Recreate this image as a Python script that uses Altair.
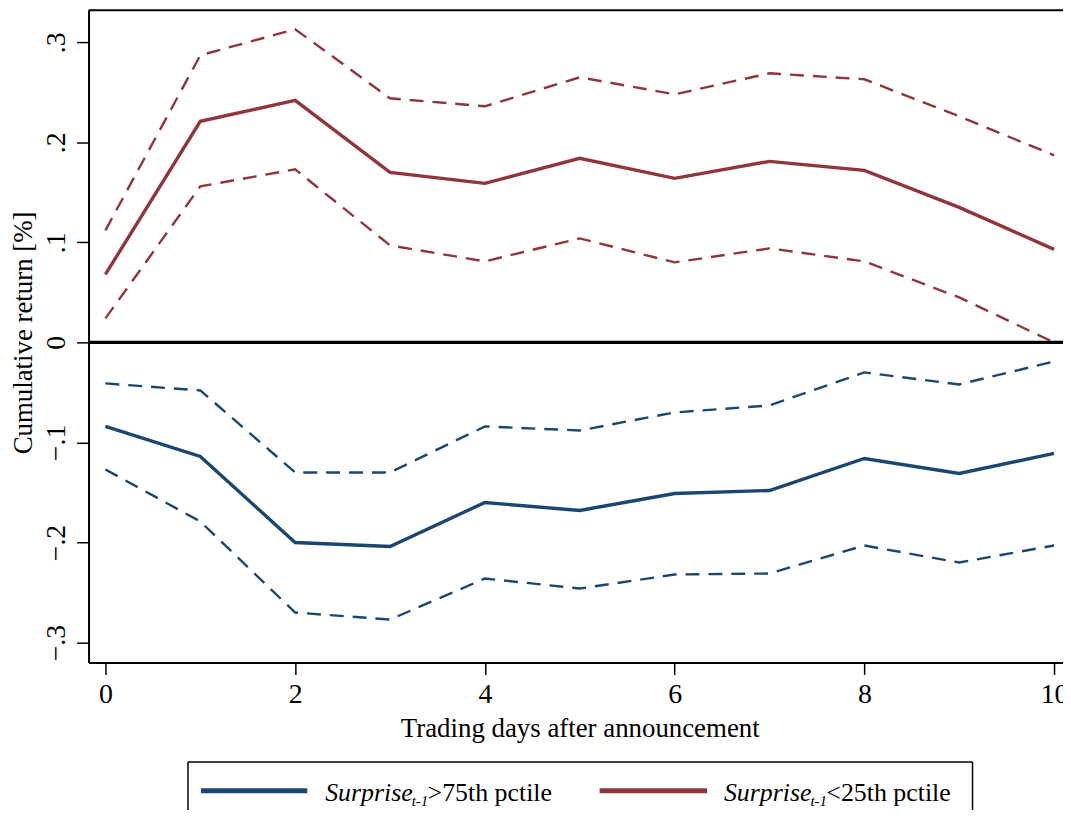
import altair as alt
import pandas as pd

# ---- data ----
days = list(range(11))
low_mean = [0.068, 0.221, 0.242, 0.170, 0.159, 0.184, 0.164, 0.181, 0.172, 0.135, 0.093]
low_upper = [0.112, 0.287, 0.313, 0.244, 0.236, 0.265, 0.248, 0.269, 0.263, 0.226, 0.187]
low_lower = [0.024, 0.156, 0.173, 0.097, 0.081, 0.104, 0.080, 0.094, 0.081, 0.045, 0.000]
high_mean = [-0.084, -0.114, -0.200, -0.204, -0.160, -0.168, -0.151, -0.148, -0.116, -0.131, -0.111]
high_upper = [-0.041, -0.048, -0.130, -0.130, -0.084, -0.088, -0.070, -0.063, -0.030, -0.042, -0.019]
high_lower = [-0.127, -0.179, -0.270, -0.277, -0.236, -0.246, -0.232, -0.231, -0.203, -0.220, -0.203]

x_ticks = [0, 2, 4, 6, 8, 10]
y_ticks = [-0.3, -0.2, -0.1, 0, 0.1, 0.2, 0.3]
series_names = ["high", "low"]
legend_rest = [">75th pctile", "<25th pctile"]
legend_main = "Surprise"
legend_sub = "t-1"
x_title = "Trading days after announcement"
y_title = "Cumulative return [%]"

NAVY = "#1a476f"
MAROON = "#90353b"
FONT = "Liberation Serif"

rows = []
for name, m, lo, hi in [("high", high_mean, high_lower, high_upper),
                        ("low", low_mean, low_lower, low_upper)]:
    for band, vals in [("mean", m), ("lower", lo), ("upper", hi)]:
        for d, v in zip(days, vals):
            rows.append({"series": name, "band": band, "line": name + "_" + band,
                         "day": d, "value": v})
df = pd.DataFrame(rows)

W, H = 980, 656

xscale = alt.Scale(domain=[-0.178, 10.094], nice=False, zero=False)
yscale = alt.Scale(domain=[-0.32, 0.332], nice=False, zero=False)
cscale = alt.Scale(domain=series_names, range=[NAVY, MAROON])

xaxis = alt.Axis(values=x_ticks, title=x_title, grid=False, tickSize=12, tickWidth=1.5,
                 tickColor="black", domainColor="black", domainWidth=2, format="d",
                 labelPadding=6, labelFontSize=28, titleFontSize=27,
                 titleX=494, titleY=74, titleBaseline="alphabetic",
                 titleFontWeight="normal", labelFlush=False)
yaxis = alt.Axis(values=y_ticks, title=y_title, grid=False, tickSize=12, tickWidth=1.5,
                 tickColor="black", domainColor="black", domainWidth=2,
                 labelAngle=-90, labelAlign="center", labelBaseline="alphabetic",
                 labelPadding=12, labelFontSize=28, titleFontSize=27,
                 labelExpr="datum.value == 0 ? '0' : replace(format(datum.value, '.1f'), '0.', '.')",
                 titleAngle=-90, titleX=-57, titleY=H / 2 - 4, titleBaseline="alphabetic",
                 titleAlign="center", titleFontWeight="normal", labelFlush=False)

base = alt.Chart(df)

solid = base.transform_filter(alt.datum.band == "mean").mark_line(strokeWidth=3.4).encode(
    x=alt.X("day:Q", scale=xscale, axis=xaxis),
    y=alt.Y("value:Q", scale=yscale, axis=yaxis),
    color=alt.Color("series:N", scale=cscale, legend=None),
    detail="line:N",
)

dashed = base.transform_filter(alt.datum.band != "mean").mark_line(
    strokeWidth=2.4, strokeDash=[14, 9]).encode(
    x=alt.X("day:Q", scale=xscale),
    y=alt.Y("value:Q", scale=yscale),
    color=alt.Color("series:N", scale=cscale, legend=None),
    detail="line:N",
)

one = pd.DataFrame({"k": [0]})

zero_line = alt.Chart(one).mark_rule(color="black", strokeWidth=3.2).encode(
    y=alt.datum(0, scale=yscale), x=alt.value(0), x2=alt.value(W))

top_border = alt.Chart(one).mark_rule(color="black", strokeWidth=2).encode(
    y=alt.value(0), x=alt.value(0), x2=alt.value(W))

# ---- hand-made legend box (cropped at bottom as in the reference) ----
box_l, box_r, box_t, box_b = 100, 889, 756, 820
legend_layers = [
    alt.Chart(one).mark_rule(color="black", strokeWidth=1.5).encode(
        x=alt.value(box_l), x2=alt.value(box_r), y=alt.value(box_t)),
    alt.Chart(one).mark_rule(color="black", strokeWidth=1.5).encode(
        x=alt.value(box_l), y=alt.value(box_t), y2=alt.value(box_b)),
    alt.Chart(one).mark_rule(color="black", strokeWidth=1.5).encode(
        x=alt.value(box_r), y=alt.value(box_t), y2=alt.value(box_b)),
]

items = [(113, 220, 238, NAVY, legend_rest[0]), (514, 622, 639, MAROON, legend_rest[1])]
for x1, x2, tx, col, rest in items:
    legend_layers.append(alt.Chart(one).mark_rule(color=col, strokeWidth=5).encode(
        x=alt.value(x1), x2=alt.value(x2), y=alt.value(785)))
    legend_layers.append(alt.Chart(one).mark_text(
        font=FONT, fontSize=26, fontStyle="italic", align="left", baseline="alphabetic",
        color="black").encode(x=alt.value(tx), y=alt.value(795), text=alt.value(legend_main)))
    legend_layers.append(alt.Chart(one).mark_text(
        font=FONT, fontSize=15, fontStyle="italic", align="left", baseline="alphabetic",
        color="black").encode(x=alt.value(tx + 87), y=alt.value(800), text=alt.value(legend_sub)))
    legend_layers.append(alt.Chart(one).mark_text(
        font=FONT, fontSize=26, align="left", baseline="alphabetic",
        color="black").encode(x=alt.value(tx + 103), y=alt.value(795), text=alt.value(rest)))

chart = alt.layer(dashed, solid, zero_line, top_border, *legend_layers).properties(
    width=W, height=H,
    autosize=alt.AutoSizeParams(type="none"),
    padding={"left": 81, "top": 0, "right": 0, "bottom": 146},
    background="white",
).configure_view(stroke=None).configure_axis(
    labelFont=FONT, titleFont=FONT, labelColor="black", titleColor="black"
)

chart.save("out.html", embed_options={"renderer": "svg", "actions": False})
